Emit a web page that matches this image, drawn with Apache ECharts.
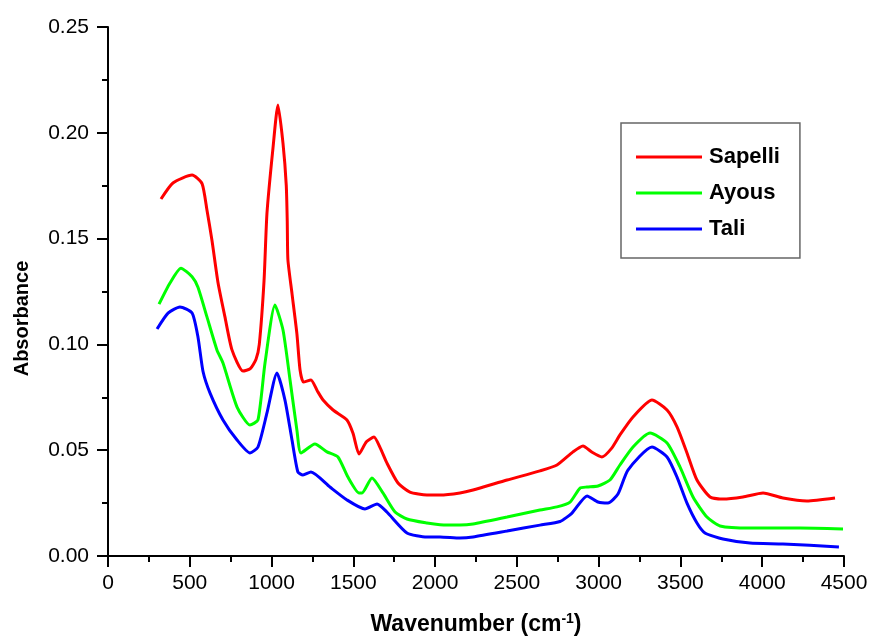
<!DOCTYPE html>
<html>
<head>
<meta charset="utf-8">
<script src="https://cdn.jsdelivr.net/npm/echarts/dist/echarts.min.js"></script>
<style>
  html, body { margin: 0; padding: 0; background: #fff; }
  #chart-box { width: 869px; height: 637px; }
</style>
</head>
<body>
<div id="chart-box"></div>
<script>
// FTIR absorbance spectra
const seriesNames = ["Sapelli", "Ayous", "Tali"];
const seriesColors = ["#ff0000", "#00ff00", "#0000ff"];

const sapelli = [
  [324, 0.1687], [397, 0.1763], [514, 0.18], [575, 0.176], [605, 0.1635],
  [636, 0.149], [673, 0.129], [715, 0.113], [758, 0.0974], [825, 0.0874],
  [870, 0.0885], [905, 0.093], [925, 0.1], [954, 0.13], [972, 0.162],
  [1009, 0.193], [1039, 0.2131], [1070, 0.195], [1090, 0.175], [1096, 0.158],
  [1100, 0.14], [1125, 0.124], [1155, 0.105], [1174, 0.088], [1195, 0.0822],
  [1241, 0.0832], [1280, 0.078], [1315, 0.0737], [1376, 0.069], [1461, 0.0643],
  [1498, 0.058], [1535, 0.0482], [1580, 0.054], [1626, 0.0562], [1665, 0.051],
  [1705, 0.044], [1773, 0.0345], [1846, 0.0302], [1950, 0.0288], [2030, 0.0288],
  [2152, 0.0298], [2232, 0.0312], [2440, 0.0359], [2641, 0.0402], [2745, 0.043],
  [2843, 0.0492], [2904, 0.052], [2960, 0.049], [3020, 0.0468], [3080, 0.051],
  [3130, 0.0572], [3210, 0.0657], [3326, 0.0737], [3418, 0.069], [3479, 0.061],
  [3540, 0.0487], [3601, 0.0359], [3681, 0.0279], [3760, 0.0269], [3882, 0.0279],
  [4005, 0.0298], [4127, 0.0274], [4273, 0.026], [4445, 0.0274]
];

const ayous = [
  [312, 0.119], [379, 0.129], [446, 0.136], [514, 0.132], [550, 0.127],
  [605, 0.113], [666, 0.0974], [703, 0.0912], [789, 0.0704], [868, 0.0619],
  [917, 0.0643], [960, 0.0912], [1021, 0.1186], [1070, 0.1068], [1113, 0.0832],
  [1155, 0.0595], [1180, 0.0487], [1265, 0.0529], [1339, 0.0492], [1406, 0.0468],
  [1467, 0.0373], [1535, 0.0298], [1553, 0.0298], [1614, 0.0369], [1681, 0.0298],
  [1755, 0.0208], [1828, 0.0175], [1950, 0.0156], [2030, 0.0148], [2152, 0.0146],
  [2232, 0.0151], [2440, 0.0184], [2641, 0.0217], [2745, 0.0232], [2825, 0.0255],
  [2886, 0.0321], [2929, 0.0326], [2996, 0.0331], [3069, 0.0359], [3130, 0.043],
  [3210, 0.0515], [3314, 0.0581], [3418, 0.0534], [3497, 0.0421], [3577, 0.0279],
  [3662, 0.0184], [3742, 0.0142], [3925, 0.0132], [4231, 0.0132], [4494, 0.0128]
];

const tali = [
  [300, 0.1073], [367, 0.1148], [440, 0.1177], [514, 0.1148], [550, 0.1035],
  [581, 0.0872], [624, 0.077], [703, 0.0643], [789, 0.0548], [868, 0.0487],
  [917, 0.0515], [972, 0.0676], [1033, 0.0865], [1082, 0.0737], [1125, 0.0548],
  [1161, 0.0397], [1192, 0.0383], [1241, 0.0397], [1357, 0.0326], [1461, 0.0265],
  [1571, 0.0222], [1645, 0.0246], [1705, 0.0208], [1828, 0.0109], [1950, 0.009],
  [2030, 0.009], [2152, 0.0085], [2232, 0.009], [2440, 0.0118], [2641, 0.0146],
  [2764, 0.0163], [2837, 0.0203], [2929, 0.0284], [2996, 0.0255], [3057, 0.025],
  [3118, 0.0293], [3179, 0.0406], [3326, 0.0515], [3418, 0.0468], [3479, 0.0373],
  [3540, 0.025], [3601, 0.0156], [3650, 0.0109], [3760, 0.008], [3925, 0.0061],
  [4127, 0.0057], [4469, 0.0043]
];

const allData = [sapelli, ayous, tali];
const fontFamily = 'Arial, "Liberation Sans", sans-serif';

const container = document.getElementById("chart-box");
const chart = echarts.init(container, null, { renderer: "canvas" });

const axisCommon = {
  axisLine: { show: true, lineStyle: { color: "#000", width: 2 } },
  axisTick: { show: true, inside: false, length: 11, lineStyle: { color: "#000", width: 2 } },
  minorTick: { show: true, splitNumber: 2, length: 6, lineStyle: { color: "#000", width: 2 } },
  splitLine: { show: false },
};

const option = {
  animation: false,
  backgroundColor: "#fff",
  grid: { left: 108, right: 25, top: 27, bottom: 81, containLabel: false, outerBoundsMode: "none" },
  legend: {
    orient: "vertical",
    left: 621,
    top: 123,
    padding: [23, 20, 18, 15],
    itemGap: 14,
    itemWidth: 66,
    itemHeight: 3,
    icon: "rect",
    borderColor: "#666",
    borderWidth: 1.5,
    textStyle: { fontFamily: fontFamily, fontSize: 22, fontWeight: "bold", color: "#000", padding: [0, 0, 0, 2] },
    data: seriesNames,
  },
  xAxis: Object.assign({}, axisCommon, {
    type: "value",
    min: 0,
    max: 4500,
    interval: 500,
    axisLabel: {
      fontFamily: fontFamily,
      fontSize: 21,
      color: "#000",
      margin: 17,
      formatter: (v) => String(v),
    },
    name: "{b|Wavenumber (cm}{sup|-1}{b|)}",
    nameLocation: "middle",
    nameGap: 56,
    nameTextStyle: {
      rich: {
        b: { fontFamily: fontFamily, fontSize: 23, fontWeight: "bold", color: "#000" },
        sup: { fontFamily: fontFamily, fontSize: 14, fontWeight: "bold", color: "#000", padding: [0, 0, 11, 0] },
      },
    },
  }),
  yAxis: Object.assign({}, axisCommon, {
    type: "value",
    min: 0,
    max: 0.25,
    interval: 0.05,
    axisLabel: {
      fontFamily: fontFamily,
      fontSize: 21,
      color: "#000",
      margin: 19,
      formatter: (v) => v.toFixed(2),
    },
    name: "Absorbance",
    nameLocation: "middle",
    nameGap: 76,
    nameTextStyle: {
      fontFamily: fontFamily,
      fontSize: 20,
      fontWeight: "bold",
      color: "#000",
      padding: [0, 54, 0, 0],
    },
  }),
  series: seriesNames.map((name, i) => ({
    name: name,
    type: "line",
    data: allData[i],
    smooth: 0.2,
    showSymbol: false,
    symbol: "none",
    color: seriesColors[i],
    lineStyle: { color: seriesColors[i], width: 3 },
  })),
};

chart.setOption(option);
</script>
</body>
</html>
